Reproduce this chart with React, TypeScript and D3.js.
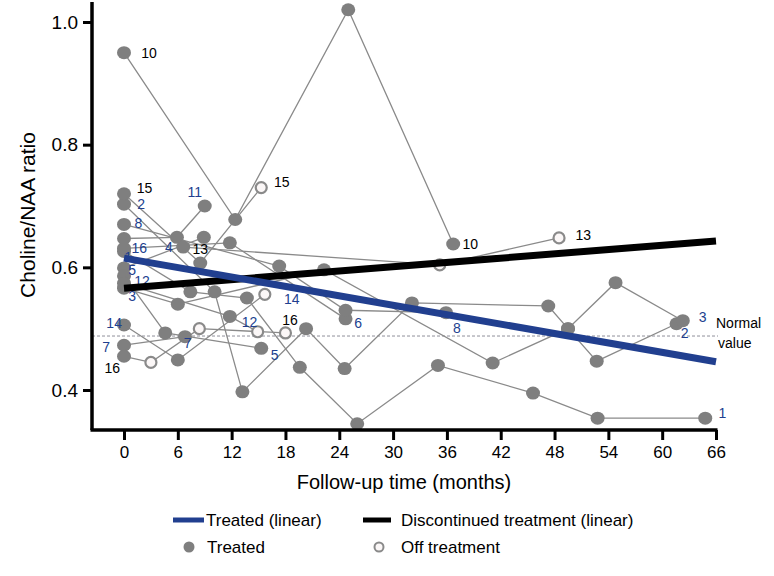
import * as d3 from 'd3';
import React, { useRef, useEffect } from 'react';

const svgWidth = 774;
const svgHeight = 576;

// each point: follow-up month, choline/NAA ratio, 1 = off treatment
const p1 = [[0, 0.626, 0], [7.4, 0.56, 0], [13.7, 0.55, 0], [19.6, 0.437, 0], [26, 0.345, 0], [35, 0.44, 0], [45.6, 0.395, 0], [52.8, 0.354, 0], [64.8, 0.354, 0]];
const p2 = [[0, 0.703, 0], [10.1, 0.56, 0], [13.2, 0.397, 0], [20.3, 0.5, 0], [24.6, 0.435, 0], [32.1, 0.542, 0], [47.3, 0.537, 0], [49.5, 0.5, 0], [52.7, 0.447, 0], [61.6, 0.508, 0]];
const p3 = [[0, 0.566, 0], [6.0, 0.54, 0], [22.3, 0.596, 0], [41.1, 0.444, 0], [49.5, 0.5, 0], [54.8, 0.575, 0], [62.3, 0.513, 0]];
const p4 = [[0, 0.599, 0], [8.9, 0.649, 0]];
const p5 = [[0, 0.586, 0], [4.6, 0.493, 0], [15.3, 0.468, 0]];
const p6 = [[0, 0.631, 0], [11.8, 0.64, 0], [24.7, 0.516, 0]];
const p7 = [[0, 0.473, 0], [6.8, 0.487, 0]];
const p8 = [[0, 0.67, 0], [17.3, 0.602, 0], [24.7, 0.53, 0], [35.9, 0.526, 0]];
const p10 = [[0, 0.95, 0], [12.4, 0.678, 0], [25, 1.02, 0], [36.7, 0.638, 0]];
const p11 = [[0, 0.647, 0], [5.9, 0.649, 0], [9, 0.7, 0]];
const p12 = [[0, 0.574, 0], [11.8, 0.52, 0], [14.9, 0.495, 1]];
const p13 = [[6.6, 0.633, 0], [35.2, 0.604, 1], [48.5, 0.648, 1]];
const p14 = [[0, 0.506, 0], [6.0, 0.449, 0], [15.7, 0.556, 1]];
const p15 = [[0, 0.72, 0], [8.5, 0.607, 0], [15.3, 0.73, 1]];
const p16 = [[0, 0.455, 0], [3.0, 0.445, 1], [8.4, 0.5, 1], [18, 0.493, 1]];
const patients = [p1, p2, p3, p4, p5, p6, p7, p8, p10, p11, p12, p13, p14, p15, p16];

// patient number labels: text, month, ratio, group (t = treated, d = discontinued)
const labels = [
  ['10', 2.8, 0.95, 'd'], ['15', 2.3, 0.729, 'd'], ['2', 1.9, 0.703, 't'], ['8', 1.6, 0.672, 't'],
  ['16', 1.7, 0.632, 't'], ['1', 0.45, 0.617, 't'], ['4', 5.0, 0.633, 't'], ['13', 8.5, 0.63, 'd'],
  ['11', 7.9, 0.723, 't'], ['5', 0.9, 0.595, 't'], ['12', 2.0, 0.577, 't'], ['3', 0.9, 0.553, 't'],
  ['14', -1.1, 0.509, 't'], ['7', -2.0, 0.47, 't'], ['16', -1.3, 0.436, 'd'],
  ['7', 7.1, 0.477, 't'], ['12', 14.0, 0.511, 't'], ['16', 18.5, 0.514, 'd'], ['5', 16.8, 0.457, 't'],
  ['14', 18.7, 0.548, 't'], ['15', 17.6, 0.739, 'd'], ['6', 26.1, 0.509, 't'], ['8', 37.1, 0.501, 't'],
  ['10', 38.6, 0.638, 'd'], ['13', 51.2, 0.653, 'd'], ['3', 64.5, 0.519, 't'], ['2', 62.5, 0.493, 't'],
  ['1', 66.7, 0.362, 't'],
];

const treatedFit = [[0, 0.615], [66, 0.446]];
const discontinuedFit = [[0, 0.566], [66, 0.643]];
const normalValue = 0.488;
const xTicks = [0, 6, 12, 18, 24, 30, 36, 42, 48, 54, 60, 66];
const yTicks = [0.4, 0.6, 0.8, 1.0];

const BLUE = '#213f8f';
const GRAY = '#7f7f7f';
const FONT = 'Liberation Sans, Arial, sans-serif';

function Chart() {
  const ref = useRef(null);

  useEffect(() => {
    const svg = d3.select(ref.current);
    svg.selectAll('*').remove();

    const x = d3.scaleLinear().domain([0, 66]).range([124, 716]);
    const y = d3.scaleLinear().domain([0.4, 1.0]).range([390, 22]);
    const axisX0 = 92;
    const axisY0 = 430;

    // normal value
    svg.append('line')
      .attr('x1', axisX0).attr('x2', 718)
      .attr('y1', y(normalValue)).attr('y2', y(normalValue))
      .attr('stroke', '#8f8f9a').attr('stroke-width', 1).attr('stroke-dasharray', '3,2');
    svg.append('text').attr('x', 716).attr('y', y(normalValue) - 8)
      .attr('font-family', FONT).attr('font-size', 14).text('Normal');
    svg.append('text').attr('x', 718).attr('y', y(normalValue) + 12)
      .attr('font-family', FONT).attr('font-size', 14).text('value');

    const line = d3.line().x(d => x(d[0])).y(d => y(d[1]));

    svg.append('g').selectAll('path').data(patients).join('path')
      .attr('d', d => line(d))
      .attr('fill', 'none').attr('stroke', '#8a8a8a').attr('stroke-width', 1.3);

    const pts = patients.flat();
    svg.append('g').selectAll('ellipse').data(pts).join('ellipse')
      .attr('cx', d => x(d[0])).attr('cy', d => y(d[1]))
      .attr('rx', d => d[2] ? 5.5 : 7).attr('ry', d => d[2] ? 5.5 : 6.5)
      .attr('fill', d => d[2] ? '#fbf7f7' : GRAY)
      .attr('stroke', d => d[2] ? '#8a8a8a' : 'none')
      .attr('stroke-width', 2.2);

    svg.append('g').selectAll('text').data(labels).join('text')
      .attr('x', d => x(d[1])).attr('y', d => y(d[2]))
      .attr('text-anchor', 'middle').attr('dominant-baseline', 'central')
      .attr('font-family', FONT).attr('font-size', 14)
      .attr('fill', d => d[3] === 't' ? BLUE : '#000')
      .text(d => d[0]);

    // linear fits
    svg.append('path').attr('d', line(discontinuedFit))
      .attr('stroke', '#000').attr('stroke-width', 7).attr('fill', 'none');
    svg.append('path').attr('d', line(treatedFit))
      .attr('stroke', BLUE).attr('stroke-width', 7).attr('fill', 'none');

    // axes
    const gx = svg.append('g').attr('transform', `translate(0,${axisY0})`)
      .call(d3.axisBottom(x).tickValues(xTicks).tickSize(10).tickPadding(6).tickFormat(d3.format('d')));
    gx.select('.domain').remove();
    gx.selectAll('line').attr('stroke-width', 3);
    gx.selectAll('text').attr('font-family', FONT).attr('font-size', 17).attr('fill', '#000');
    svg.append('line').attr('x1', axisX0 - 1.5).attr('x2', x(66) + 1.5)
      .attr('y1', axisY0).attr('y2', axisY0).attr('stroke', '#000').attr('stroke-width', 3.5);

    const gy = svg.append('g').attr('transform', `translate(${axisX0},0)`)
      .call(d3.axisLeft(y).tickValues(yTicks).tickSize(9).tickPadding(5).tickFormat(d3.format('.1f')));
    gy.select('.domain').remove();
    gy.selectAll('line').attr('stroke-width', 3);
    gy.selectAll('text').attr('font-family', FONT).attr('font-size', 19).attr('fill', '#000');
    svg.append('line').attr('x1', axisX0).attr('x2', axisX0)
      .attr('y1', 2).attr('y2', axisY0).attr('stroke', '#000').attr('stroke-width', 3.5);

    svg.append('text').attr('x', 404).attr('y', 489).attr('text-anchor', 'middle')
      .attr('font-family', FONT).attr('font-size', 20).text('Follow-up time (months)');
    svg.append('text').attr('transform', 'translate(35,215) rotate(-90)').attr('text-anchor', 'middle')
      .attr('font-family', FONT).attr('font-size', 21).text('Choline/NAA ratio');

    // legend
    const lg = svg.append('g').attr('font-family', FONT).attr('font-size', 17);
    lg.append('line').attr('x1', 173).attr('x2', 204).attr('y1', 520).attr('y2', 520)
      .attr('stroke', BLUE).attr('stroke-width', 5);
    lg.append('text').attr('x', 206).attr('y', 526).text('Treated (linear)');
    lg.append('line').attr('x1', 363).attr('x2', 391).attr('y1', 520).attr('y2', 520)
      .attr('stroke', '#000').attr('stroke-width', 5);
    lg.append('text').attr('x', 401).attr('y', 526).text('Discontinued treatment (linear)');
    lg.append('circle').attr('cx', 189).attr('cy', 547).attr('r', 5.5).attr('fill', GRAY);
    lg.append('text').attr('x', 207).attr('y', 553).text('Treated');
    lg.append('circle').attr('cx', 379).attr('cy', 547).attr('r', 4.5)
      .attr('fill', '#fbf7f7').attr('stroke', '#8a8a8a').attr('stroke-width', 2);
    lg.append('text').attr('x', 401).attr('y', 553).text('Off treatment');
  }, []);

  return <svg ref={ref} width={svgWidth} height={svgHeight} style={{ display: 'block', background: '#fff' }} />;
}

export default function App() {
  return (
    <div style={{ position: 'absolute', left: 0, top: 0 }}>
      <Chart />
    </div>
  );
}
